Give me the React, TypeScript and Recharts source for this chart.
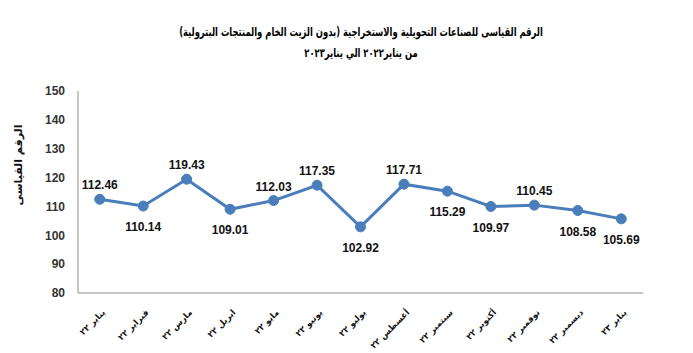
import { LineChart, Line, XAxis, YAxis, LabelList } from 'recharts';

const months = [
    'يناير ٢٢', 'فبراير ٢٢', 'مارس ٢٢', 'ابريل ٢٢', 'مايو ٢٢', 'يونيو ٢٢', 'يوليو ٢٢',
    'أغسطس ٢٢', 'سبتمبر ٢٢', 'أكتوبر ٢٢', 'نوفمبر ٢٢', 'ديسمبر ٢٢', 'يناير ٢٣',
];
const indexValues = [112.46, 110.14, 119.43, 109.01, 112.03, 117.35, 102.92, 117.71, 115.29, 109.97, 110.45, 108.58, 105.69];
const yTicks = [80, 90, 100, 110, 120, 130, 140, 150];

// which data labels sit under their point
const labelBelow = [false, true, false, true, false, false, true, false, true, true, false, true, true];

const data = months.map((m, i) => ({ month: m, value: indexValues[i] }));

const BLUE = '#4a7ebb';
const arabicFont = '"DejaVu Sans", "Noto Sans", sans-serif';

const MonthTick = (props: any) => {
    const { x, y, payload } = props;
    return (
        <g transform={`translate(${x + 6},${y + 12})`}>
            <text transform="rotate(-45)" textAnchor="end" fontSize={8.5} fontWeight="bold" fill="#111" fontFamily={arabicFont}>
                {payload.value}
            </text>
        </g>
    );
};

const ValueLabel = (props: any) => {
    const { x, y, value, index } = props;
    const below = labelBelow[index];
    return (
        <text
            x={x}
            y={below ? y + 25 : y - 10}
            textAnchor="middle"
            fontSize={12}
            fontWeight="bold"
            fill="#111"
            fontFamily='"Liberation Sans", Arial, sans-serif'
        >
            {value.toFixed(2)}
        </text>
    );
};

export default function App() {
    return (
        <div style={{ position: 'fixed', left: 0, top: 0, width: 693, height: 353, background: '#fff' }}>
            <div
                style={{
                    position: 'absolute',
                    left: 0,
                    top: 22,
                    width: 722,
                    textAlign: 'center',
                    fontFamily: arabicFont,
                    fontWeight: 'bold',
                    fontSize: 12,
                    lineHeight: '21px',
                    color: '#000',
                    direction: 'rtl',
                    transform: 'scaleX(0.7)',
                    transformOrigin: '361px 0',
                }}
            >
                <div>الرقم القياسى للصناعات التحويلية والاستخراجية (بدون الزيت الخام والمنتجات البترولية)</div>
                <div>من يناير٢٠٢٢  الي يناير٢٠٢٣</div>
            </div>
            <LineChart width={693} height={353} data={data} margin={{ top: 91, right: 50, left: 0, bottom: 0 }}>
                <XAxis
                    dataKey="month"
                    scale="band"
                    height={60}
                    interval={0}
                    tick={<MonthTick />}
                    tickLine={false}
                    axisLine={{ stroke: '#8c8c8c' }}
                />
                <YAxis
                    width={78}
                    domain={[80, 150]}
                    ticks={yTicks}
                    tickLine={false}
                    tickMargin={7}
                    axisLine={{ stroke: '#8c8c8c' }}
                    tick={{ fontSize: 12, fontWeight: 'bold', fill: '#333', fontFamily: '"Liberation Sans", Arial, sans-serif' }}
                    label={{
                        value: 'الرقم القياسى',
                        angle: -90,
                        position: 'insideLeft',
                        offset: 18,
                        dy: -27,
                        style: { fontSize: 11, fontWeight: 'bold', fill: '#111', fontFamily: arabicFont, textAnchor: 'middle' },
                    }}
                />
                <Line
                    type="linear"
                    dataKey="value"
                    stroke={BLUE}
                    strokeWidth={3}
                    dot={{ r: 5, fill: BLUE, stroke: BLUE, strokeWidth: 1 }}
                    activeDot={false}
                    isAnimationActive={false}
                >
                    <LabelList dataKey="value" content={<ValueLabel />} />
                </Line>
            </LineChart>
        </div>
    );
}
